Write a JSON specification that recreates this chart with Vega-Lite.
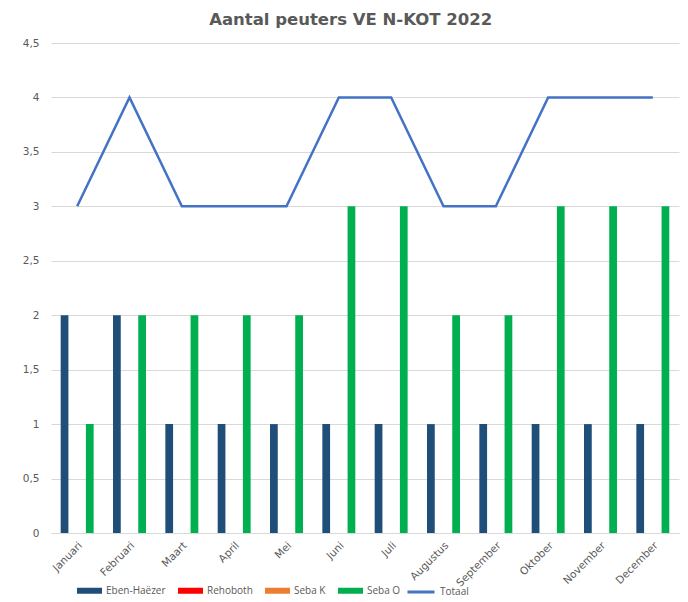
{
  "$schema": "https://vega.github.io/schema/vega-lite/v6.json",
  "width": 628,
  "height": 490,
  "autosize": "none",
  "padding": {"left": 51, "top": 43, "right": 9, "bottom": 69},
  "background": "white",
  "title": {
    "text": "Aantal peuters VE N-KOT 2022",
    "font": "DejaVu Sans",
    "fontSize": 16.5,
    "fontWeight": "bold",
    "color": "#595959",
    "anchor": "middle",
    "frame": "bounds",
    "offset": 10
  },
  "config": {
    "view": {"stroke": null},
    "font": "Open Sans"
  },
  "data": {
    "values": [
      {"maand": "Januari", "reeks": "Eben-Haëzer", "waarde": 2},
      {"maand": "Januari", "reeks": "Rehoboth", "waarde": 0},
      {"maand": "Januari", "reeks": "Seba K", "waarde": 0},
      {"maand": "Januari", "reeks": "Seba O", "waarde": 1},
      {"maand": "Januari", "reeks": "Totaal", "waarde": 3},
      {"maand": "Februari", "reeks": "Eben-Haëzer", "waarde": 2},
      {"maand": "Februari", "reeks": "Rehoboth", "waarde": 0},
      {"maand": "Februari", "reeks": "Seba K", "waarde": 0},
      {"maand": "Februari", "reeks": "Seba O", "waarde": 2},
      {"maand": "Februari", "reeks": "Totaal", "waarde": 4},
      {"maand": "Maart", "reeks": "Eben-Haëzer", "waarde": 1},
      {"maand": "Maart", "reeks": "Rehoboth", "waarde": 0},
      {"maand": "Maart", "reeks": "Seba K", "waarde": 0},
      {"maand": "Maart", "reeks": "Seba O", "waarde": 2},
      {"maand": "Maart", "reeks": "Totaal", "waarde": 3},
      {"maand": "April", "reeks": "Eben-Haëzer", "waarde": 1},
      {"maand": "April", "reeks": "Rehoboth", "waarde": 0},
      {"maand": "April", "reeks": "Seba K", "waarde": 0},
      {"maand": "April", "reeks": "Seba O", "waarde": 2},
      {"maand": "April", "reeks": "Totaal", "waarde": 3},
      {"maand": "Mei", "reeks": "Eben-Haëzer", "waarde": 1},
      {"maand": "Mei", "reeks": "Rehoboth", "waarde": 0},
      {"maand": "Mei", "reeks": "Seba K", "waarde": 0},
      {"maand": "Mei", "reeks": "Seba O", "waarde": 2},
      {"maand": "Mei", "reeks": "Totaal", "waarde": 3},
      {"maand": "Juni", "reeks": "Eben-Haëzer", "waarde": 1},
      {"maand": "Juni", "reeks": "Rehoboth", "waarde": 0},
      {"maand": "Juni", "reeks": "Seba K", "waarde": 0},
      {"maand": "Juni", "reeks": "Seba O", "waarde": 3},
      {"maand": "Juni", "reeks": "Totaal", "waarde": 4},
      {"maand": "Juli", "reeks": "Eben-Haëzer", "waarde": 1},
      {"maand": "Juli", "reeks": "Rehoboth", "waarde": 0},
      {"maand": "Juli", "reeks": "Seba K", "waarde": 0},
      {"maand": "Juli", "reeks": "Seba O", "waarde": 3},
      {"maand": "Juli", "reeks": "Totaal", "waarde": 4},
      {"maand": "Augustus", "reeks": "Eben-Haëzer", "waarde": 1},
      {"maand": "Augustus", "reeks": "Rehoboth", "waarde": 0},
      {"maand": "Augustus", "reeks": "Seba K", "waarde": 0},
      {"maand": "Augustus", "reeks": "Seba O", "waarde": 2},
      {"maand": "Augustus", "reeks": "Totaal", "waarde": 3},
      {"maand": "September", "reeks": "Eben-Haëzer", "waarde": 1},
      {"maand": "September", "reeks": "Rehoboth", "waarde": 0},
      {"maand": "September", "reeks": "Seba K", "waarde": 0},
      {"maand": "September", "reeks": "Seba O", "waarde": 2},
      {"maand": "September", "reeks": "Totaal", "waarde": 3},
      {"maand": "Oktober", "reeks": "Eben-Haëzer", "waarde": 1},
      {"maand": "Oktober", "reeks": "Rehoboth", "waarde": 0},
      {"maand": "Oktober", "reeks": "Seba K", "waarde": 0},
      {"maand": "Oktober", "reeks": "Seba O", "waarde": 3},
      {"maand": "Oktober", "reeks": "Totaal", "waarde": 4},
      {"maand": "November", "reeks": "Eben-Haëzer", "waarde": 1},
      {"maand": "November", "reeks": "Rehoboth", "waarde": 0},
      {"maand": "November", "reeks": "Seba K", "waarde": 0},
      {"maand": "November", "reeks": "Seba O", "waarde": 3},
      {"maand": "November", "reeks": "Totaal", "waarde": 4},
      {"maand": "December", "reeks": "Eben-Haëzer", "waarde": 1},
      {"maand": "December", "reeks": "Rehoboth", "waarde": 0},
      {"maand": "December", "reeks": "Seba K", "waarde": 0},
      {"maand": "December", "reeks": "Seba O", "waarde": 3},
      {"maand": "December", "reeks": "Totaal", "waarde": 4}
    ]
  },
  "encoding": {
    "x": {
      "field": "maand",
      "type": "nominal",
      "sort": null,
      "scale": {"paddingInner": 0.37, "paddingOuter": 0.185},
      "axis": {
        "title": null,
        "labelAngle": -45,
        "labelFont": "DejaVu Sans",
        "labelFontSize": 10.5,
        "labelColor": "#595959",
        "ticks": false,
        "domainColor": "#d9d9d9",
        "labelPadding": 7
      }
    },
    "y": {
      "field": "waarde",
      "type": "quantitative",
      "scale": {"domain": [0, 4.5]},
      "axis": {
        "title": null,
        "values": [0, 0.5, 1, 1.5, 2, 2.5, 3, 3.5, 4, 4.5],
        "format": "~g",
        "labelExpr": "replace(datum.label, '.', ',')",
        "labelFont": "DejaVu Sans",
        "labelFontSize": 10.5,
        "labelColor": "#595959",
        "labelPadding": 12,
        "ticks": false,
        "domain": false,
        "gridColor": "#d9d9d9"
      }
    }
  },
  "layer": [
    {
      "transform": [{"filter": "datum.reeks !== 'Totaal'"}],
      "mark": {"type": "bar"},
      "encoding": {
        "fill": {
          "field": "reeks",
          "type": "nominal",
          "scale": {
            "domain": ["Eben-Haëzer", "Rehoboth", "Seba K", "Seba O"],
            "range": ["#1f4e79", "#ff0000", "#ed7d31", "#00b050"]
          },
          "legend": {
            "title": null,
            "orient": "none",
            "direction": "horizontal",
            "legendX": 26,
            "legendY": 535,
            "columns": 4,
            "columnPadding": 12,
            "labelFontSize": 10,
            "labelColor": "#595959",
            "labelOffset": 4,
            "symbolSize": 625,
            "symbolType": "M-1,-0.24H1V0.24H-1Z",
            "symbolStrokeWidth": 0,
            "symbolOpacity": 1
          }
        },
        "xOffset": {
          "field": "reeks",
          "type": "nominal",
          "scale": {"domain": ["Eben-Haëzer", "Rehoboth", "Seba K", "Seba O"], "paddingInner": 0.08}
        }
      }
    },
    {
      "transform": [{"filter": "datum.reeks === 'Totaal'"}],
      "mark": {"type": "line", "strokeWidth": 2.5},
      "encoding": {
        "stroke": {
          "field": "reeks",
          "type": "nominal",
          "scale": {"domain": ["Totaal"], "range": ["#4472c4"]},
          "legend": {
            "title": null,
            "orient": "none",
            "legendX": 355,
            "legendY": 534,
            "labelFontSize": 10,
            "labelColor": "#595959",
            "labelOffset": 4,
            "symbolSize": 729,
            "symbolType": "M-1,0H1",
            "symbolStrokeWidth": 3
          }
        }
      }
    }
  ]
}
